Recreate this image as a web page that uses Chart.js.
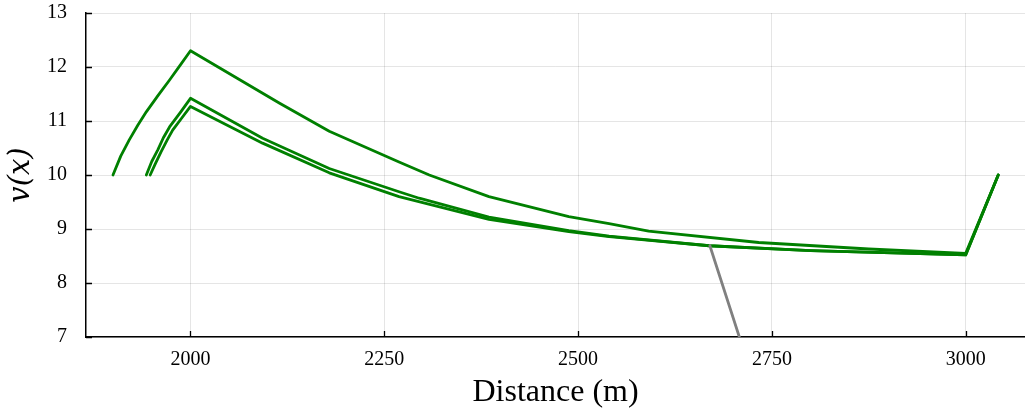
<!DOCTYPE html>
<html>
<head>
<meta charset="utf-8">
<script src="https://cdn.jsdelivr.net/npm/chart.js@4/dist/chart.umd.min.js"></script>
<style>
  html, body { margin: 0; padding: 0; background: #fff; }
  #wrap { width: 1025px; height: 409px; }
</style>
</head>
<body>
<div id="wrap"><canvas id="c" width="1025" height="409"></canvas></div>
<script>
// Speed profiles v(x) along the track section (distance in m)
const runA_dist = [1900, 1910, 1921, 1932, 1943, 1958, 1973, 1987, 2000, 2115, 2179, 2269, 2308, 2385, 2488, 2540, 2591, 2733, 2875, 3000, 3042];
const runA_v    = [10.0, 10.35, 10.65, 10.92, 11.17, 11.47, 11.76, 12.04, 12.30, 11.33, 10.81, 10.24, 10.00, 9.60, 9.23, 9.10, 8.96, 8.75, 8.63, 8.55, 10.0];

const runB_dist = [1943, 1950, 1958, 1965, 1973, 1987, 2000, 2093, 2179, 2269, 2295, 2385, 2488, 2540, 2669, 2800, 3000, 3042];
const runB_v    = [10.0, 10.25, 10.47, 10.69, 10.89, 11.16, 11.42, 10.68, 10.12, 9.69, 9.57, 9.22, 8.97, 8.87, 8.69, 8.60, 8.52, 10.0];

const runC_dist = [1948, 1955, 1962, 1970, 1977, 1989, 2000, 2093, 2179, 2269, 2385, 2488, 2540, 2669, 2800, 3000, 3042];
const runC_v    = [10.0, 10.22, 10.43, 10.65, 10.83, 11.06, 11.27, 10.59, 10.04, 9.60, 9.18, 8.95, 8.86, 8.69, 8.60, 8.52, 10.0];

// Profile that leaves the envelope and drops away
const runD_dist = [2670, 2708];
const runD_v    = [8.69, 7.0];

const xTicks = [2000, 2250, 2500, 2750, 3000];
const yTicks = [7, 8, 9, 10, 11, 12, 13];
const xRange = [1865.2, 3076.5];
const yRange = [7, 13];

const pts = (xs, ys) => xs.map((x, i) => ({ x: x, y: ys[i] }));

const FONT = '"Liberation Serif", "DejaVu Serif", serif';

// Short tick marks drawn on the inner side of the axes
const innerTicks = {
  id: 'innerTicks',
  afterDraw(chart) {
    const { ctx, chartArea: a, scales: { x, y } } = chart;
    ctx.save();
    ctx.strokeStyle = '#000';
    ctx.lineWidth = 1.3;
    ctx.beginPath();
    xTicks.forEach(v => {
      const px = Math.round(x.getPixelForValue(v)) + 0.5;
      ctx.moveTo(px, a.bottom);
      ctx.lineTo(px, a.bottom - 6);
    });
    yTicks.forEach(v => {
      const py = Math.round(y.getPixelForValue(v)) + 0.5;
      ctx.moveTo(a.left, py);
      ctx.lineTo(a.left + 6, py);
    });
    ctx.stroke();
    ctx.restore();
  }
};

const green = '#008000';
const lineStyle = { borderWidth: 2.8, pointRadius: 0, tension: 0, fill: false, borderJoinStyle: 'round', borderCapStyle: 'round' };

new Chart(document.getElementById('c'), {
  type: 'line',
  data: {
    datasets: [
      Object.assign({ label: 'D', data: pts(runD_dist, runD_v), borderColor: '#808080' }, lineStyle),
      Object.assign({ label: 'C', data: pts(runC_dist, runC_v), borderColor: green }, lineStyle),
      Object.assign({ label: 'B', data: pts(runB_dist, runB_v), borderColor: green }, lineStyle),
      Object.assign({ label: 'A', data: pts(runA_dist, runA_v), borderColor: green }, lineStyle)
    ]
  },
  options: {
    responsive: false,
    animation: false,
    layout: { padding: { top: 13, right: 0, left: 0, bottom: 0 } },
    plugins: { legend: { display: false }, tooltip: { enabled: false } },
    scales: {
      x: {
        type: 'linear',
        min: xRange[0], max: xRange[1],
        afterBuildTicks: s => { s.ticks = xTicks.map(v => ({ value: v })); },
        afterFit: s => { s.height = 72; s.paddingLeft = 0; s.paddingRight = 0; },
        grid: { color: 'rgba(0,0,0,0.1)', lineWidth: 1, drawTicks: false },
        border: { display: true, color: '#000', width: 1.5 },
        ticks: { color: '#000', padding: 11, maxRotation: 0, font: { family: FONT, size: 20 }, callback: v => String(v) },
        title: { display: true, text: 'Distance (m)', color: '#000', font: { family: FONT, size: 32 }, padding: { top: 0, bottom: -3 } }
      },
      y: {
        type: 'linear',
        min: yRange[0], max: yRange[1],
        afterBuildTicks: s => { s.ticks = yTicks.map(v => ({ value: v })); },
        afterFit: s => { s.width = 86; s.paddingTop = 0; s.paddingBottom = 0; },
        grid: { color: 'rgba(0,0,0,0.1)', lineWidth: 1, drawTicks: false },
        border: { display: true, color: '#000', width: 1.5 },
        ticks: { color: '#000', padding: 19, font: { family: FONT, size: 20 }, callback: v => String(v) },
        title: { display: true, text: 'v(x)', color: '#000', font: { family: '"DejaVu Serif", serif', size: 29, style: 'italic' }, padding: { top: 4, bottom: 0 } }
      }
    }
  },
  plugins: [innerTicks]
});
</script>
</body>
</html>
